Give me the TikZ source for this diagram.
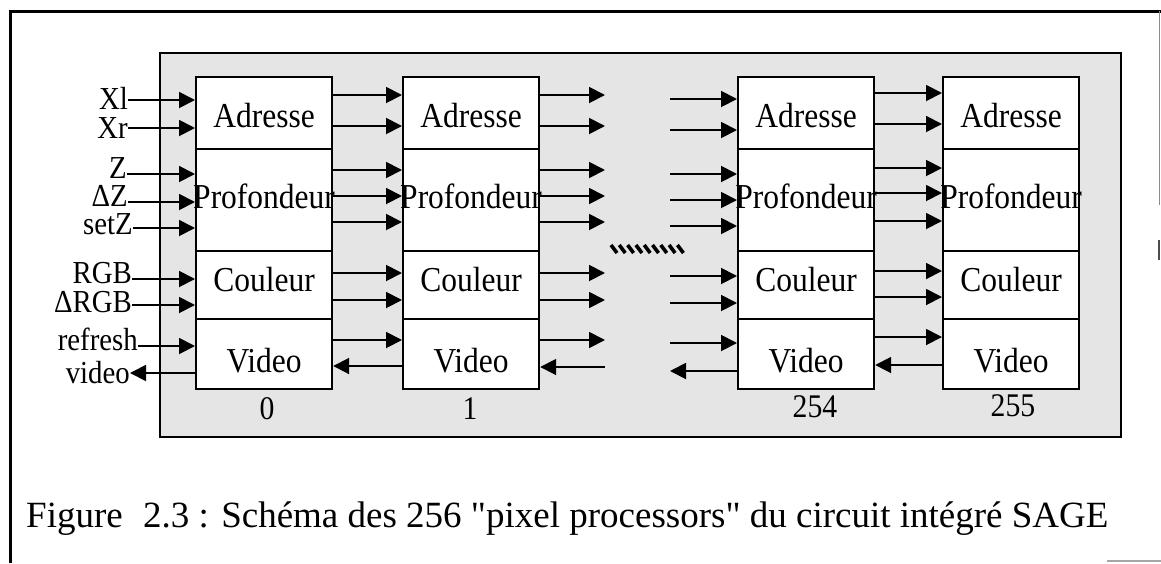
\documentclass[tikz,border=0pt]{standalone}
\usepackage{fontspec}
\setmainfont{Liberation Serif}[FakeStretch=0.9]
\newfontfamily\capfont{Liberation Serif}
\usetikzlibrary{arrows.meta}
\begin{document}
\begin{tikzpicture}[x=1pt,y=-1pt,
  sec/.style={draw, line width=2.2pt, fill=white, inner sep=0pt,
    minimum width=136pt, anchor=north west},
  boxtxt/.style={font=\fontsize{35}{40}\selectfont, inner sep=0pt},
  inlbl/.style={font=\fontsize{32}{38}\selectfont, inner sep=0pt, anchor=base east},
  numlbl/.style={font=\fontsize{33}{38}\selectfont, inner sep=0pt, anchor=base},
  arr/.style={line width=1.9pt, -{Triangle[length=16pt,width=16pt]}},
  hatch/.style={line width=3.6pt}]
\useasboundingbox (0,0) rectangle (1161,563);

% page frame fragments
\draw[line width=3pt] (1161,11) -- (10,11) -- (10,563);
\draw[line width=0.8pt, black!45] (1159,11) -- (1159,205);
\draw[line width=1.4pt, black!70] (1159,240) -- (1159,260);
\draw[line width=2pt, black!35] (1107,561) -- (1161,561);

% shaded chip area
\filldraw[fill=black!10, line width=2pt] (160,53) rectangle (1121,437);

% the four pixel processors shown
\foreach \n/\x in {0/195, 1/402, 2/737, 3/942}{
  \node[sec, minimum height=72pt]  (adr\n) at (\x,76)  {};
  \node[sec, minimum height=102pt] (pro\n) at (\x,148) {};
  \node[sec, minimum height=68pt]  (cou\n) at (\x,250) {};
  \node[sec, minimum height=70pt]  (vid\n) at (\x,318) {};
  \node[boxtxt, yshift=-2pt] (tadr\n) at (adr\n.center) {Adresse};
  \node[boxtxt, yshift=4pt]  (tpro\n) at (pro\n.center) {Profondeur};
  \node[boxtxt, yshift=6pt]  (tcou\n) at (cou\n.center) {Couleur};
  \node[boxtxt, yshift=-7pt] (tvid\n) at (vid\n.center) {Video};
}

% processor numbers
\node[numlbl] (n0) at (267,419) {0};
\node[numlbl] (n1) at (470,419) {1};
\node[numlbl] (n2) at (815,417) {254};
\node[numlbl] (n3) at (1013,416) {255};

% external inputs of processor 0
\node[inlbl] (lxl)  at (128,109) {Xl};
\node[inlbl] (lxr)  at (128,138) {Xr};
\node[inlbl] (lz)   at (127,178) {Z};
\node[inlbl] (ldz)  at (128,206) {ΔZ};
\node[inlbl] (lsz)  at (133,234) {setZ};
\node[inlbl] (lrgb) at (132,283) {RGB};
\node[inlbl] (ldrgb) at (132,312) {ΔRGB};
\node[inlbl] (lref) at (138,350) {refresh};
\node[inlbl] (lvid) at (130,383) {video};

\draw[arr] (lxl.east |- 0,100)   -- (adr0.west |- 0,100);
\draw[arr] (lxr.east |- 0,128)   -- (adr0.west |- 0,128);
\draw[arr] (lz.east |- 0,174)    -- (pro0.west |- 0,174);
\draw[arr] (ldz.east |- 0,202)   -- (pro0.west |- 0,202);
\draw[arr] (lsz.east |- 0,228)   -- (pro0.west |- 0,228);
\draw[arr] (lrgb.east |- 0,279)  -- (cou0.west |- 0,279);
\draw[arr] (ldrgb.east |- 0,305) -- (cou0.west |- 0,305);
\draw[arr] (lref.east |- 0,346)  -- (vid0.west |- 0,346);
\draw[arr] (vid0.west |- 0,373)  -- (lvid.east |- 0,373);

% chain 0 -> 1
\foreach \s/\y in {adr/95, adr/126, pro/170, pro/196, pro/222, cou/273, cou/300, vid/340}
  \draw[arr] (\s0.east |- 0,\y) -- (\s1.west |- 0,\y);
\draw[arr] (vid1.west |- 0,366) -- (vid0.east |- 0,366);

% elided processors 2 .. 253
\coordinate (gl) at (605,0);
\coordinate (gr) at (670,0);
\foreach \s/\y in {adr/95, adr/126, pro/170, pro/196, pro/222, cou/273, cou/300, vid/340}
  \draw[arr] (\s1.east |- 0,\y) -- (gl |- 0,\y);
\draw[arr] (gl |- 0,367) -- (vid1.east |- 0,367);
\foreach \s/\y in {adr/99, adr/130, pro/174, pro/200, pro/226, cou/276, cou/303, vid/343}
  \draw[arr] (gr |- 0,\y) -- (\s2.west |- 0,\y);
\draw[arr] (vid2.west |- 0,371) -- (gr |- 0,371);
\foreach \i in {0,...,8}
  \draw[hatch] (611+8.3*\i,245) -- ++(6,8);

% chain 254 -> 255
\foreach \s/\y in {adr/93, adr/124, pro/168, pro/193, pro/221, cou/271, cou/297, vid/337}
  \draw[arr] (\s2.east |- 0,\y) -- (\s3.west |- 0,\y);
\draw[arr] (vid3.west |- 0,365) -- (vid2.east |- 0,365);

% caption
\node[anchor=base west, inner sep=0pt, font=\capfont\fontsize{37}{42}\selectfont] (cap) at (26,527)
  {Figure\hspace{0.3em} 2.3 : Schéma des 256 \char34 pixel processors\char34\ du circuit intégré SAGE};
\end{tikzpicture}
\end{document}
